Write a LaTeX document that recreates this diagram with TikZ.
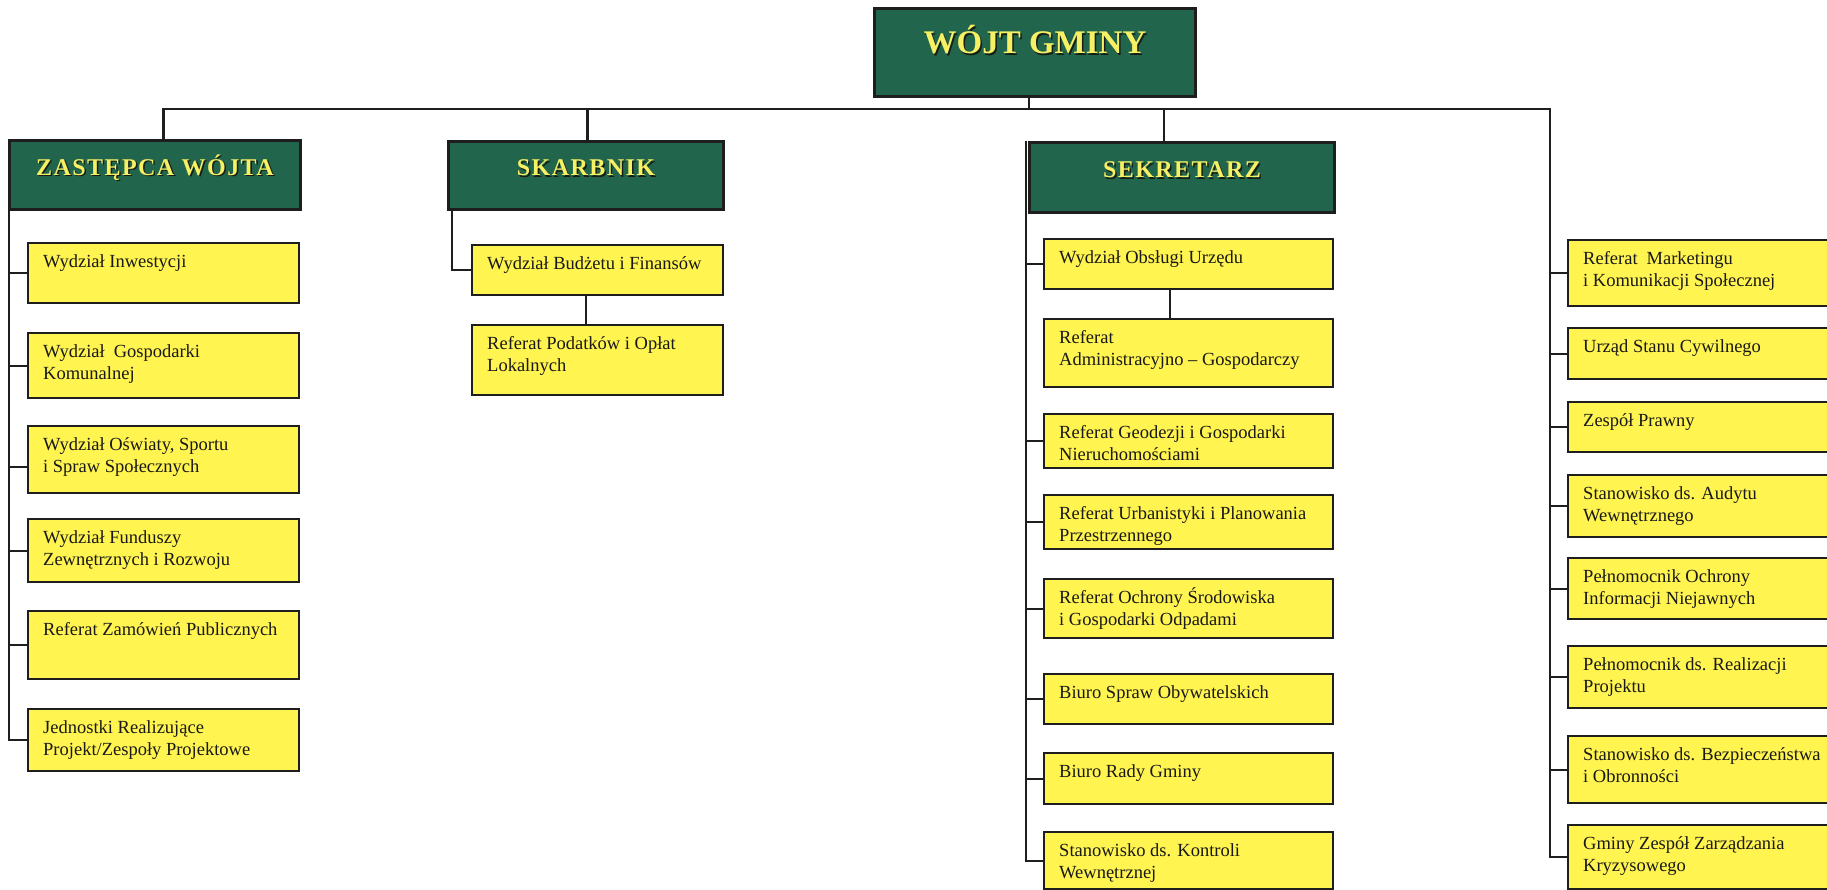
\documentclass[tikz,border=0pt]{standalone}
\usepackage{fontspec}
\setmainfont{Liberation Serif}
\newfontfamily\hdrfont[LetterSpace=6]{Liberation Serif}
\definecolor{hgreen}{RGB}{33,102,76}
\definecolor{yfill}{RGB}{255,244,80}
\definecolor{htext}{RGB}{245,240,100}
\definecolor{hshadow}{RGB}{25,30,20}
\definecolor{lineclr}{RGB}{30,30,30}
\definecolor{txtclr}{RGB}{25,25,25}
\newcommand\shd[1]{\rlap{\kern1.5pt\raisebox{-1.5pt}{\textcolor{hshadow}{#1}}}#1}
\newcommand\ybox[6]{\node[yb, minimum width=#4pt, minimum height=#5pt] (#1) at (#2,#3)
  {\parbox[c][#5pt][t]{#4pt}{\raggedright\leftskip=15pt\fontsize{18.5}{22}\selectfont\rule{0pt}{24.5pt}#6\par}};}
\newcommand\gbox[6]{\node[gb, minimum width=#4pt, minimum height=#5pt] (#1) at (#2,#3) {\shd{#6}};}
\begin{document}
\begin{tikzpicture}[x=1pt,y=-1pt,
  conn/.style={draw=lineclr,line width=2.2pt},
  yb/.style={draw=lineclr,line width=2.4pt,fill=yfill,anchor=north west,inner sep=0pt,text=txtclr},
  gb/.style={draw=lineclr,line width=3pt,fill=hgreen,anchor=north west,inner sep=0pt,text=htext,
    font={\fontsize{24}{28}\selectfont\hdrfont\bfseries},text height=19pt,text depth=18pt}]
\useasboundingbox (0,0) rectangle (1827,890);
\clip (0,0) rectangle (1827,890);
\fill[white] (0,0) rectangle (1827,890);

% headers
\node[gb, minimum width=321pt, minimum height=88pt, font={\fontsize{33}{38}\selectfont\bfseries},
  text height=23pt, text depth=20pt] (wojt) at (873,7) {\shd{WÓJT GMINY}};
\gbox{zast}{8}{139}{291}{69}{ZASTĘPCA WÓJTA}
\gbox{skar}{447}{140}{275}{68}{SKARBNIK}
\gbox{sek}{1028}{141}{305}{70}{SEKRETARZ}

% left column
\ybox{z1}{27}{242}{271}{60}{Wydział Inwestycji}
\ybox{z2}{27}{332}{271}{65}{Wydział\hspace{9pt}Gospodarki\\Komunalnej}
\ybox{z3}{27}{425}{271}{67}{Wydział Oświaty, Sportu\\i Spraw Społecznych}
\ybox{z4}{27}{518}{271}{63}{Wydział Funduszy\\Zewnętrznych i Rozwoju}
\ybox{z5}{27}{610}{271}{68}{Referat Zamówień Publicznych}
\ybox{z6}{27}{708}{271}{62}{Jednostki Realizujące\\Projekt/Zespoły Projektowe}

% skarbnik
\ybox{s1}{471}{244}{251}{50}{Wydział Budżetu i Finansów}
\ybox{s2}{471}{324}{251}{70}{Referat Podatków i Opłat\\Lokalnych}

% sekretarz
\ybox{k1}{1043}{238}{289}{50}{Wydział Obsługi Urzędu}
\ybox{k2}{1043}{318}{289}{68}{Referat\\Administracyjno -- Gospodarczy}
\ybox{k3}{1043}{413}{289}{54}{Referat Geodezji i Gospodarki\\Nieruchomościami}
\ybox{k4}{1043}{494}{289}{54}{Referat Urbanistyki i Planowania\\Przestrzennego}
\ybox{k5}{1043}{578}{289}{59}{Referat Ochrony Środowiska\\i Gospodarki Odpadami}
\ybox{k6}{1043}{673}{289}{50}{Biuro Spraw Obywatelskich}
\ybox{k7}{1043}{752}{289}{51}{Biuro Rady Gminy}
\ybox{k8}{1043}{831}{289}{57}{Stanowisko ds. Kontroli\\Wewnętrznej}

% right column
\ybox{r1}{1567}{239}{290}{66}{Referat\hspace{9pt}Marketingu\\i Komunikacji Społecznej}
\ybox{r2}{1567}{327}{290}{51}{Urząd Stanu Cywilnego}
\ybox{r3}{1567}{401}{290}{50}{Zespół Prawny}
\ybox{r4}{1567}{474}{290}{62}{Stanowisko ds. Audytu\\Wewnętrznego}
\ybox{r5}{1567}{557}{290}{61}{Pełnomocnik Ochrony\\Informacji Niejawnych}
\ybox{r6}{1567}{645}{290}{62}{Pełnomocnik ds. Realizacji\\Projektu}
\ybox{r7}{1567}{735}{290}{67}{Stanowisko ds. Bezpieczeństwa\\i Obronności}
\ybox{r8}{1567}{824}{290}{64}{Gminy Zespół Zarządzania\\Kryzysowego}

% connectors
\coordinate (rtop) at (1550,109);
\coordinate (zt) at ([xshift=8.5pt]zast.north);
\coordinate (st) at ([xshift=1.5pt]skar.north);
\coordinate (kt) at ([xshift=-18pt]sek.north);
\coordinate (ws) at ([xshift=-6pt]wojt.south);
\draw[conn] (zt) |- (rtop) |- (r8.west);
\foreach \r in {r1,r2,r3,r4,r5,r6,r7}{\draw[conn] (rtop |- \r.west) -- (\r.west);}
\draw[conn] (st) -- (st |- rtop);
\draw[conn] (kt) -- (kt |- rtop);
\draw[conn] (ws) -- (ws |- rtop);

\coordinate (zl) at ([xshift=1pt]zast.south west);
\draw[conn] (zl) |- (z6.west);
\foreach \r in {z1,z2,z4,z5}{\draw[conn] (zl |- \r.west) -- (\r.west);}
\coordinate (z3c) at ([yshift=-7pt]z3.west);
\draw[conn] (zl |- z3c) -- (z3c);

\coordinate (sl) at ([xshift=5pt]skar.south west);
\draw[conn] (sl) |- (s1.west);
\coordinate (s1b) at ([xshift=-12pt]s1.south);
\draw[conn] (s1b) -- (s1b |- s2.north);

\coordinate (kl) at ([xshift=-2pt]sek.north west);
\draw[conn] (kl) |- (k8.west);
\foreach \r in {k1,k3,k4,k5,k6,k7}{\draw[conn] (kl |- \r.west) -- (\r.west);}
\coordinate (k1b) at ([xshift=-19pt]k1.south);
\draw[conn] (k1b) -- (k1b |- k2.north);
\end{tikzpicture}
\end{document}
